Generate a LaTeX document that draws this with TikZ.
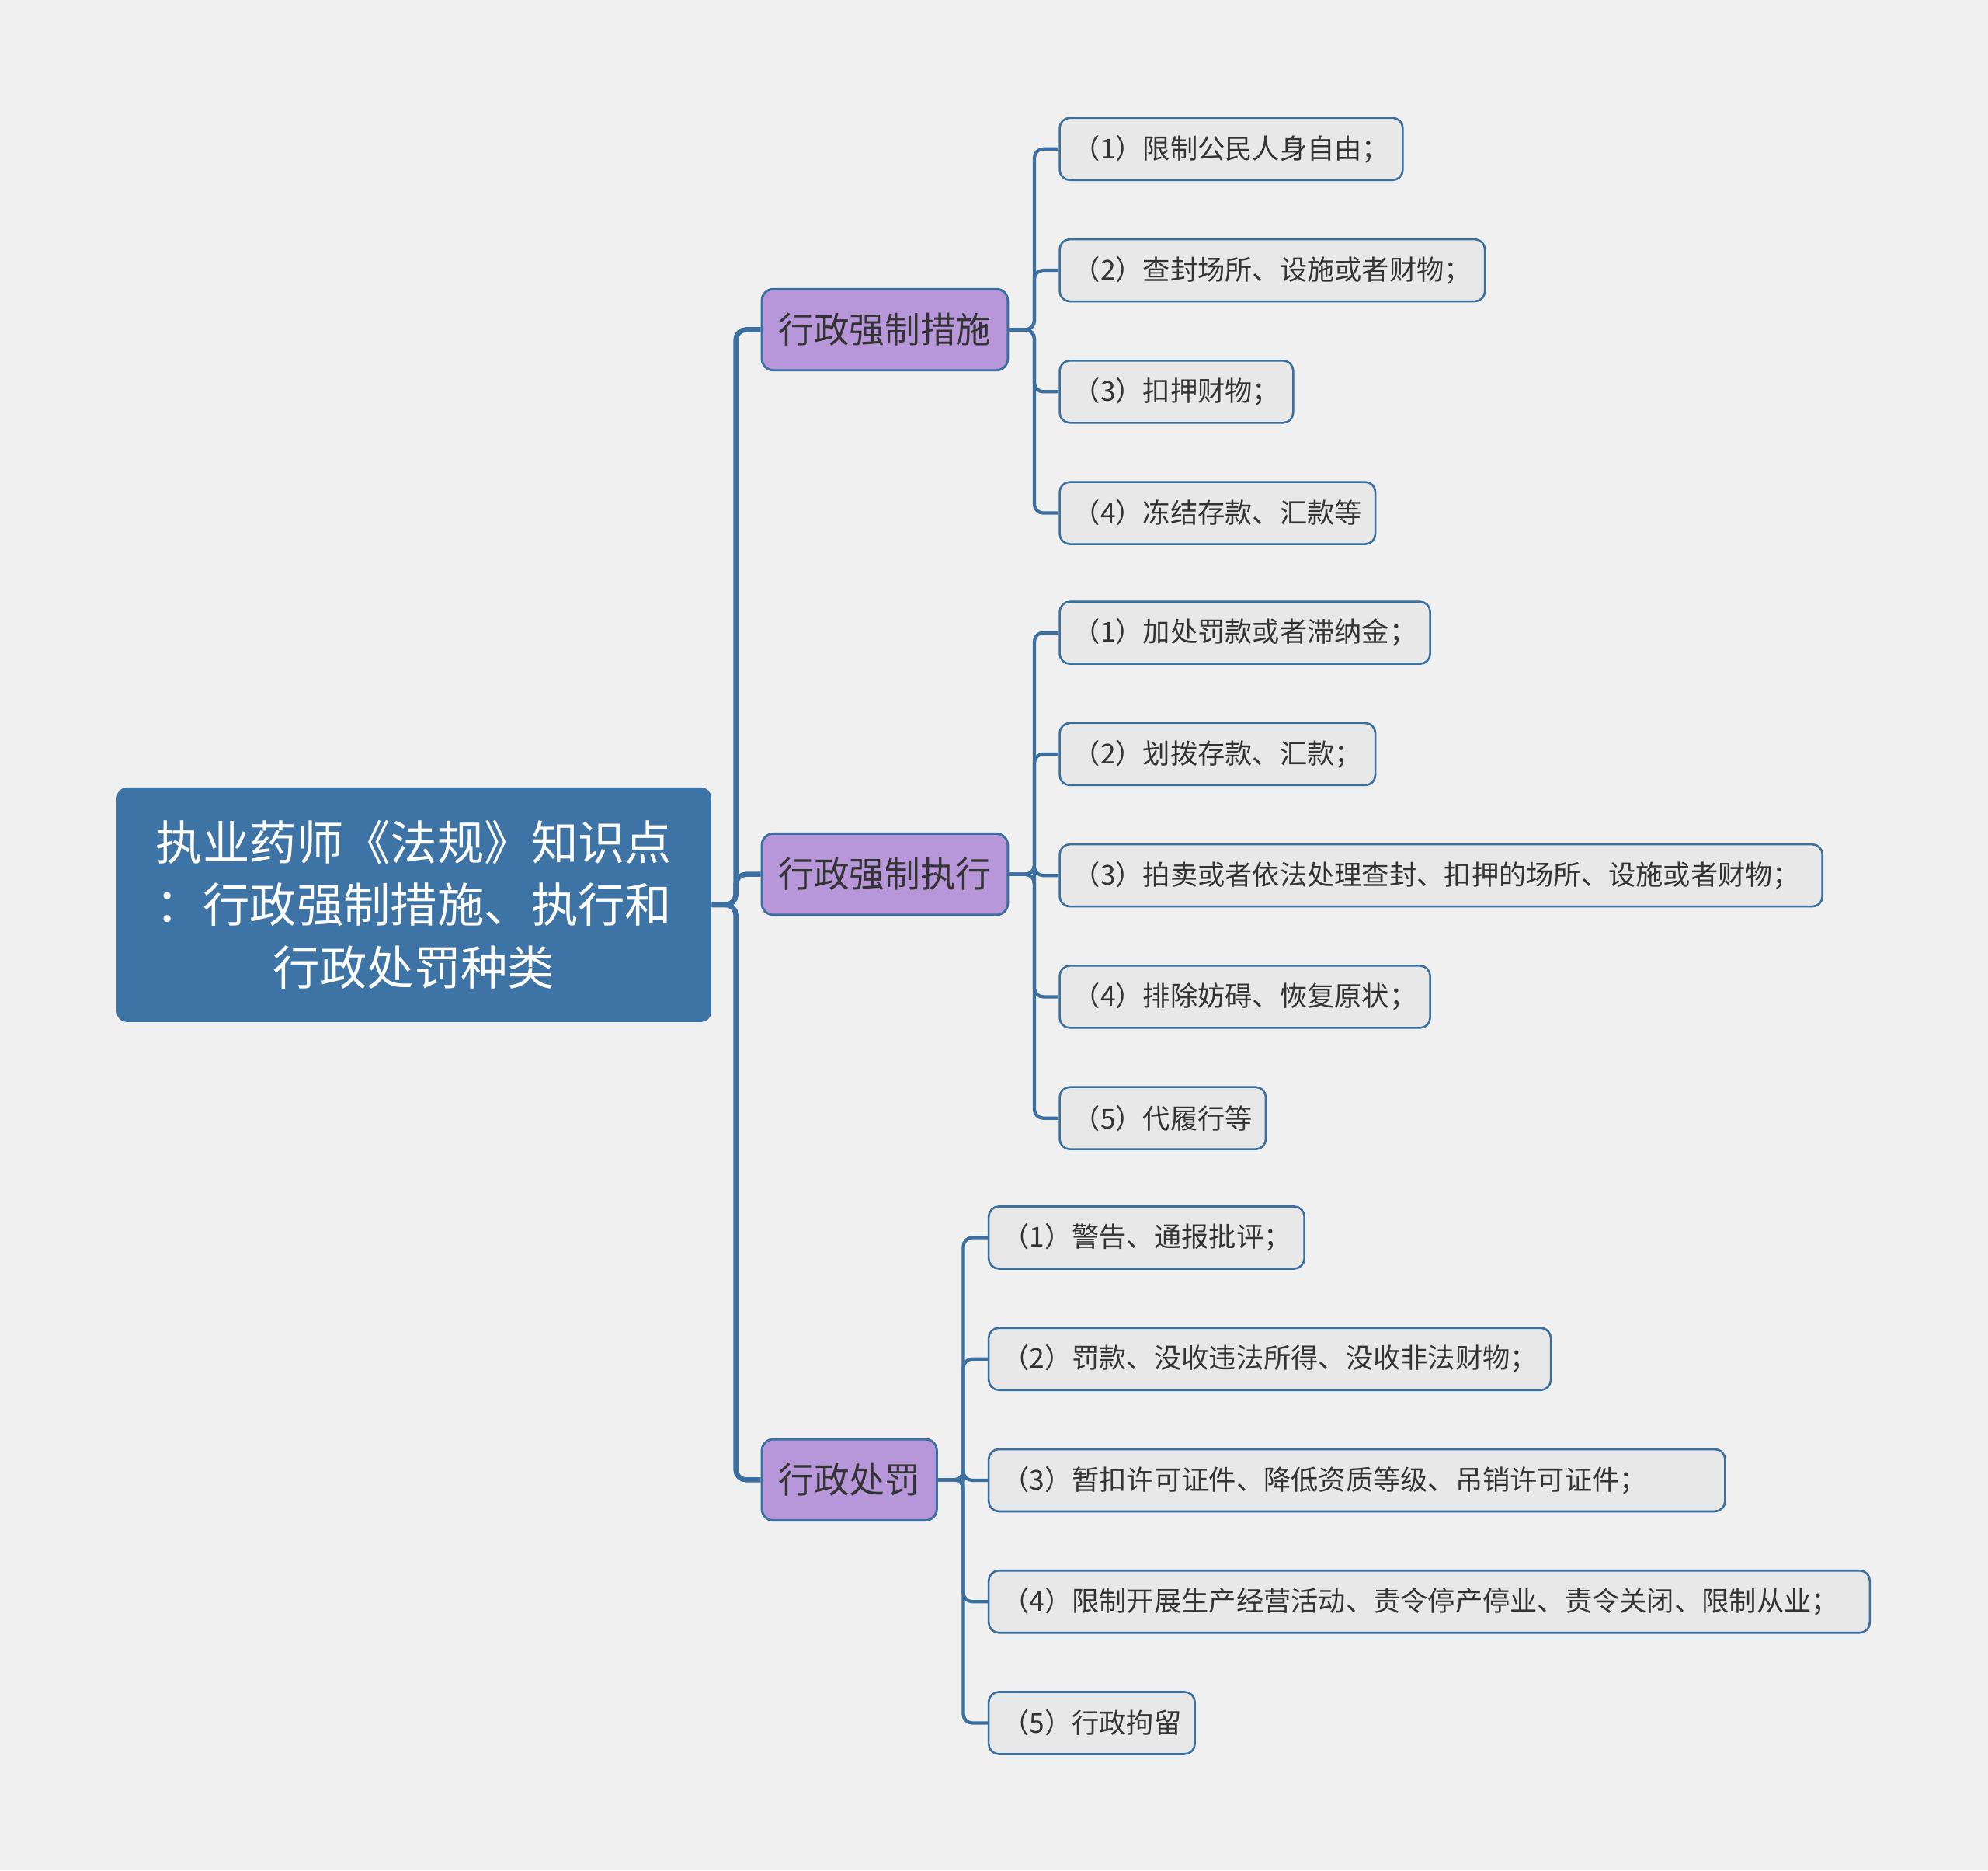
\documentclass[tikz,border=0pt]{standalone}
\usepackage{fontspec}
\setmainfont{Noto Sans CJK SC}
\usetikzlibrary{positioning}

\definecolor{bgc}{HTML}{F0F0F0}
\definecolor{linec}{HTML}{3B6FA0}
\definecolor{rootc}{HTML}{3E74A5}
\definecolor{topicc}{HTML}{B797DA}
\definecolor{leafc}{HTML}{E8E8E8}
\definecolor{txtc}{HTML}{333333}

\begin{document}
\begin{tikzpicture}[
  root/.style={fill=rootc,rounded corners=4pt,text=white,align=center,
    minimum width=234.5pt,minimum height=92.5pt,
    font=\fontsize{18.5pt}{24.75pt}\selectfont},
  topic/.style={draw=linec,line width=0.9pt,fill=topicc,rounded corners=4.5pt,
    text=txtc,minimum height=32pt,inner xsep=6.5pt,inner ysep=0pt,
    anchor=west,font=\fontsize{14pt}{16pt}\selectfont},
  leaf/.style={draw=linec,line width=0.8pt,fill=leafc,rounded corners=4pt,
    text=txtc,minimum height=24.5pt,inner xsep=5.25pt,inner ysep=0pt,
    font=\fontsize{10.8pt}{13pt}\selectfont},
  trunk/.style={draw=linec,line width=2pt,rounded corners=4pt},
  branch/.style={draw=linec,line width=1.3pt,rounded corners=3.5pt}]
  \fill[bgc] (0,0) rectangle (784pt,-737.5pt);
  \useasboundingbox (0,0) rectangle (784pt,-737.5pt);

  \node[root] (ROOT) at (163.25pt,-356.75pt)
    {执业药师《法规》知识点\\：行政强制措施、执行和\\行政处罚种类};

  \node[topic] (M1) at (300pt,-130pt) {行政强制措施};
  \node[topic] (M2) at (300pt,-344.75pt) {行政强制执行};
  \node[topic] (M3) at (300pt,-583.5pt) {行政处罚};

  % 行政强制措施
  \node[leaf,anchor=west] (M1a) at (417.5pt,-58.75pt) {（1）限制公民人身自由；};
  \node[leaf,below=22.55pt of M1a.south west,anchor=north west] (M1b) {（2）查封场所、设施或者财物；};
  \node[leaf,below=22.55pt of M1b.south west,anchor=north west] (M1c) {（3）扣押财物；};
  \node[leaf,below=22.55pt of M1c.south west,anchor=north west] (M1d) {（4）冻结存款、汇款等};

  % 行政强制执行
  \node[leaf,anchor=west] (M2a) at (417.5pt,-249.5pt) {（1）加处罚款或者滞纳金；};
  \node[leaf,below=22.55pt of M2a.south west,anchor=north west] (M2b) {（2）划拨存款、汇款；};
  \node[leaf,below=22.55pt of M2b.south west,anchor=north west] (M2c) {（3）拍卖或者依法处理查封、扣押的场所、设施或者财物；\rule{3.5pt}{0pt}};
  \node[leaf,below=22.55pt of M2c.south west,anchor=north west] (M2d) {（4）排除妨碍、恢复原状；};
  \node[leaf,below=22.55pt of M2d.south west,anchor=north west] (M2e) {（5）代履行等};

  % 行政处罚
  \node[leaf,anchor=west] (M3a) at (389.5pt,-488pt) {（1）警告、通报批评；};
  \node[leaf,below=22.55pt of M3a.south west,anchor=north west] (M3b) {（2）罚款、没收违法所得、没收非法财物；};
  \node[leaf,below=22.55pt of M3b.south west,anchor=north west] (M3c) {（3）暂扣许可证件、降低资质等级、吊销许可证件；\rule{25.5pt}{0pt}};
  \node[leaf,below=22.55pt of M3c.south west,anchor=north west] (M3d) {（4）限制开展生产经营活动、责令停产停业、责令关闭、限制从业；\rule{7pt}{0pt}};
  \node[leaf,below=22.55pt of M3d.south west,anchor=north west] (M3e) {（5）行政拘留};

  \foreach \t in {M1,M2,M3}
    \draw[trunk] (ROOT.east) -- ++(9.5pt,0) |- (\t.west);
  \foreach \l in {M1a,M1b,M1c,M1d}
    \draw[branch] (M1.east) -- ++(10pt,0) |- (\l.west);
  \foreach \l in {M2a,M2b,M2c,M2d,M2e}
    \draw[branch] (M2.east) -- ++(10pt,0) |- (\l.west);
  \foreach \l in {M3a,M3b,M3c,M3d,M3e}
    \draw[branch] (M3.east) -- ++(10pt,0) |- (\l.west);
\end{tikzpicture}
\end{document}
